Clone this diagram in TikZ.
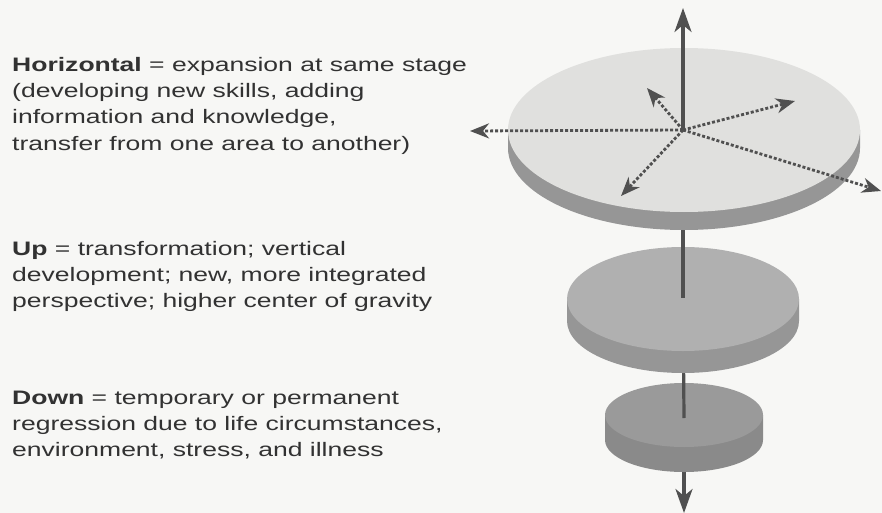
\documentclass[tikz,border=0pt]{standalone}
\usepackage{fontspec}
\setmainfont{Liberation Sans}[FakeStretch=1.36]
\usepackage{xcolor}
\usetikzlibrary{arrows.meta,positioning}
\definecolor{paperbg}{RGB}{247,247,245}
\definecolor{inkgray}{RGB}{50,50,50}
\definecolor{axisgray}{RGB}{80,80,80}
\definecolor{topface}{RGB}{224,224,222}
\definecolor{toprim}{RGB}{150,150,150}
\definecolor{midface}{RGB}{176,176,176}
\definecolor{midrim}{RGB}{150,150,150}
\definecolor{lowface}{RGB}{154,154,154}
\definecolor{lowrim}{RGB}{138,138,138}

% disk: centre x, centre y, x radius, y radius, thickness, face, rim
\newcommand{\drawdisk}[7]{%
  \fill[#7] (#1-#3,#2) -- ++(0,-#5) arc[start angle=180,end angle=360,x radius=#3,y radius=#4] -- ++(0,#5) -- cycle;
  \fill[#6] (#1,#2) ellipse[x radius=#3,y radius=#4];}

\begin{document}
\begin{tikzpicture}[x=1pt,y=1pt,
  note/.style={text=inkgray,align=left,inner sep=0pt,font=\fontsize{19.5}{26}\selectfont},
  stem/.style={draw=axisgray,line width=3.2pt},
  axis/.style={stem,-{Stealth[length=24pt,width=17pt,inset=7pt]}},
  spoke/.style={draw=axisgray,line width=2.8pt,dash pattern=on 3pt off 2pt,-{Stealth[length=19pt,width=15pt,inset=6pt]}}]
  \fill[paperbg] (0,0) rectangle (882,-513);
  \useasboundingbox (0,0) rectangle (882,-513);

  % axis points
  \coordinate (c1) at (683,-130);
  \coordinate (c2) at (683,-298);
  \coordinate (c3) at (684,-418);
  \coordinate (uptip) at (683,-8);
  \coordinate (downtip) at (684,-513);
  \coordinate (lefttip) at (470,-131);
  \coordinate (ultip) at (647,-88);
  \coordinate (urtip) at (795,-101);
  \coordinate (lltip) at (621,-196);
  \coordinate (lrtip) at (881,-191);

  % texts (base = last line)
  \node[note,anchor=base west] (horiz) at (12,-150) {\textbf{Horizontal} = expansion at same stage\\(developing new skills, adding\\information and knowledge,\\transfer from one area to another)};
  \node[note,anchor=base west] (up) at (12,-307) {\textbf{Up} = transformation; vertical\\development; new, more integrated\\perspective; higher center of gravity};
  \node[note,anchor=base west] (down) at (12,-456) {\textbf{Down} = temporary or permanent\\regression due to life circumstances,\\environment, stress, and illness};

  % disks, bottom first
  \draw[axis] (c3) -- (downtip);
  \drawdisk{684}{-415}{79}{32}{25}{lowface}{lowrim}
  \draw[stem] (c2) -- (c3);
  \drawdisk{683}{-299}{116}{52}{22}{midface}{midrim}
  \draw[stem] (c1) -- (c2);
  \drawdisk{684}{-130}{176}{82}{18}{topface}{toprim}
  \draw[axis] (c1) -- (uptip);
  \foreach \tip in {lefttip,ultip,urtip,lltip,lrtip}
    \draw[spoke] (c1) -- (\tip);
\end{tikzpicture}
\end{document}
